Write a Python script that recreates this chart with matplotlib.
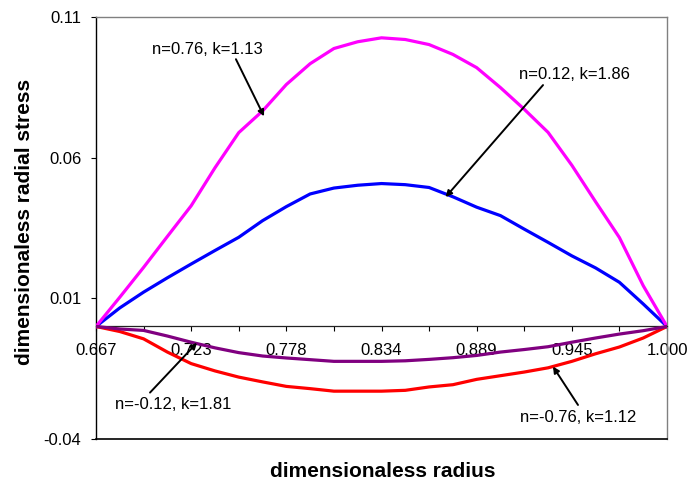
import matplotlib
matplotlib.use("Agg")
import matplotlib.pyplot as plt

plt.rcParams['font.family'] = ['Liberation Sans', 'DejaVu Sans']

# radius grid (25 stations between the inner and outer surface)
radius = [0.66700, 0.68088, 0.69475, 0.70863, 0.72250, 0.73638, 0.75025,
          0.76413, 0.77800, 0.79188, 0.80575, 0.81963, 0.83350, 0.84738,
          0.86125, 0.87513, 0.88900, 0.90288, 0.91675, 0.93063, 0.94450,
          0.95838, 0.97225, 0.98613, 1.00000]

stress_n076 = [0.0, 0.0104, 0.0210, 0.0320, 0.0429, 0.0564, 0.0689, 0.0766,
               0.0860, 0.0934, 0.0988, 0.1012, 0.1026, 0.1020, 0.1002, 0.0967,
               0.0920, 0.0849, 0.0772, 0.0690, 0.0573, 0.0443, 0.0316, 0.0145,
               0.0]
stress_n012 = [0.0, 0.0066, 0.0122, 0.0173, 0.0222, 0.0270, 0.0317, 0.0376,
               0.0426, 0.0471, 0.0492, 0.0502, 0.0508, 0.0504, 0.0494, 0.0461,
               0.0424, 0.0394, 0.0346, 0.0299, 0.0251, 0.0208, 0.0157, 0.0080,
               0.0]
stress_nm012 = [0.0, -0.0009, -0.0014, -0.0034, -0.0056, -0.0076, -0.0093,
                -0.0105, -0.0112, -0.0118, -0.0124, -0.0124, -0.0124, -0.0122,
                -0.0117, -0.0111, -0.0103, -0.0091, -0.0082, -0.0072, -0.0056,
                -0.0041, -0.0027, -0.0015, 0.0]
stress_nm076 = [0.0, -0.0018, -0.0044, -0.0091, -0.0132, -0.0158, -0.0180,
                -0.0197, -0.0213, -0.0221, -0.0230, -0.0230, -0.0230, -0.0227,
                -0.0215, -0.0207, -0.0188, -0.0175, -0.0162, -0.0147, -0.0124,
                -0.0097, -0.0073, -0.0041, 0.0]

x_major = [0.66700, 0.72250, 0.77800, 0.83350, 0.88900, 0.94450, 1.00000]
x_labels = ['0.667', '0.723', '0.778', '0.834', '0.889', '0.945', '1.000']
y_ticks = [-0.04, 0.01, 0.06, 0.11]

fig = plt.figure(figsize=(6.89, 4.86), dpi=100)
W, H = 689, 486
ax = fig.add_axes([96 / W, (H - 439) / H, (667 - 96) / W, (439 - 17) / H])

lw = 2.3
ax.plot(radius, stress_n012, color='#0000FF', lw=lw, zorder=3)
ax.plot(radius, stress_n076, color='#FF00FF', lw=lw, zorder=3)
ax.plot(radius, stress_nm076, color='#FF0000', lw=lw, zorder=3)
ax.plot(radius, stress_nm012, color='#800080', lw=lw, zorder=3)

ax.set_xlim(radius[0], radius[-1])
ax.set_ylim(y_ticks[0], y_ticks[-1])

# category axis crosses at zero
ax.spines['bottom'].set_position(('data', 0))
ax.spines['bottom'].set_linewidth(0.9)
ax.spines['bottom'].set_color('#222222')
ax.spines['left'].set_color('black')
ax.spines['left'].set_linewidth(1.0)
for s in ('top', 'right'):
    ax.spines[s].set_color('#808080')
    ax.spines[s].set_linewidth(1.0)
ax.axhline(y_ticks[0], color='black', lw=1.2, clip_on=False, zorder=4)

ax.set_xticks(x_major)
ax.set_xticklabels(x_labels)
ax.set_xticks(radius[2::4], minor=True)
ax.tick_params(axis='x', which='both', direction='out', length=3.5,
               width=0.8, pad=8.5, labelsize=12, colors='black')
ax.set_yticks(y_ticks)
ax.set_yticklabels([f'{v:.2f}' for v in y_ticks])
ax.tick_params(axis='y', direction='out', length=3.5, width=0.8, pad=7,
               labelsize=12)

fig.text(383 / W, 1 - 471 / H, 'dimensionaless radius', ha='center',
         va='center', fontsize=15, fontweight='bold')
fig.text(25 / W, 1 - 222 / H, 'dimensionaless radial stress', ha='center',
         va='center', rotation=90, fontsize=15, fontweight='bold')

arrow = dict(arrowstyle='-|>', color='black', lw=1.4, mutation_scale=9,
             shrinkA=0, shrinkB=0)
notes = [
    ('n=0.76, k=1.13', (0.7317, 0.0986), (0.7486, 0.0950), (0.7650, 0.0747)),
    ('n=0.12, k=1.86', (0.9461, 0.0897), (0.9277, 0.0858), (0.8709, 0.0460)),
    ('n=-0.12, k=1.81', (0.7122, -0.0279), (0.6985, -0.0235), (0.7259, -0.0058)),
    ('n=-0.76, k=1.12', (0.9481, -0.0325), (0.9481, -0.0279), (0.9335, -0.01425)),
]
for label, tpos, tail, head in notes:
    ax.text(*tpos, label, ha='center', va='center', fontsize=12, zorder=5)
    ax.annotate('', xy=head, xytext=tail, arrowprops=arrow, zorder=5)

fig.savefig('out.png', dpi=100)
